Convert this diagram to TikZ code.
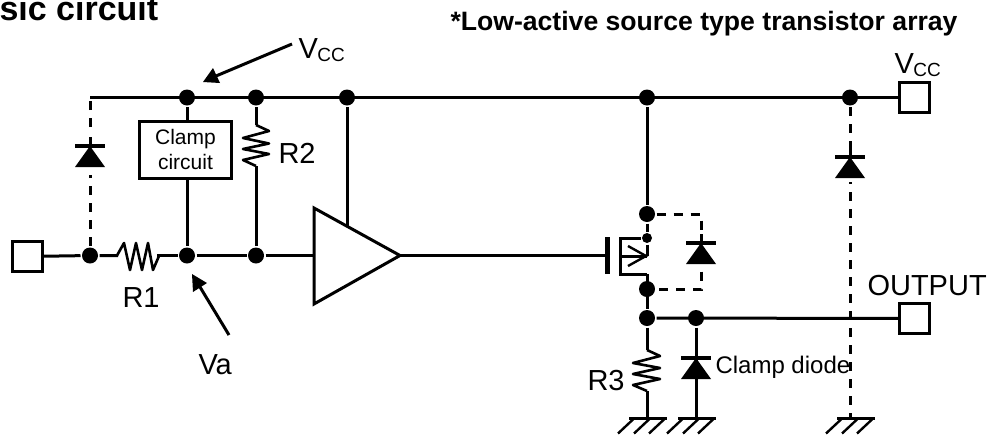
\documentclass[tikz,border=0pt]{standalone}
\usepackage{fontspec}
\setmainfont{Liberation Sans}
\begin{document}
\begin{tikzpicture}[x=1pt,y=-1pt,line width=3pt,
  dot/.style={circle,fill=black,draw=none,inner sep=0pt,minimum size=16pt},
  smalldot/.style={circle,fill=black,draw=none,inner sep=0pt,minimum size=10pt},
  pin/.style={draw,fill=white,inner sep=0pt,minimum size=30pt,line width=3pt},
  lab/.style={inner sep=0pt,anchor=base west,font=\fontsize{29}{30}\selectfont},
  dashwire/.style={dash pattern=on 9pt off 8pt},
  zig/.style={line width=2.6pt,line join=round}]
\useasboundingbox (0,0) rectangle (987,437);
\newcommand{\diodeat}[3]{%
  \fill (#1-15,#2+#3) -- (#1+15,#2+#3) -- (#1,#2) -- cycle;
  \draw[line width=3.4pt] (#1-15,#2) -- (#1+15,#2);}
\newcommand{\groundat}[2]{%
  \draw[line width=3.4pt] (#1-18,#2) -- (#1+20,#2);
  \foreach \gx in {-13,3,18} \draw[line width=2.4pt] (#1+\gx,#2) -- (#1+\gx-16,#2+15);}
\newcommand{\vcclabel}{V\kern-0.5pt\raisebox{-3pt}{\fontsize{19}{19}\selectfont CC}}
% nodes
\node[pin] (pinL) at (27.5,256.5) {};
\node[pin] (pinV) at (914.5,97.5) {};
\node[pin] (pinO) at (914.5,318.5) {};
\node[dot] (a1) at (90,255.5) {};
\node[dot] (a2) at (187,255.5) {};
\node[dot] (a3) at (256,255.5) {};
\node[dot] (t1) at (187,97.5) {};
\node[dot] (t2) at (256,97.5) {};
\node[dot] (t3) at (347,97.5) {};
\node[dot] (t4) at (647,97.5) {};
\node[dot] (t5) at (850,97.5) {};
\node[dot] (m1) at (647,214) {};
\node[dot] (m2) at (647,289) {};
\node[dot] (o1) at (647,318) {};
\node[dot] (o2) at (696,318) {};
\node[smalldot] (s1) at (647,238) {};
\coordinate (tl) at (90,97.5);
\coordinate (ampT) at (347,226);
\coordinate (ampIn) at (314,255.5);
\coordinate (ampOut) at (400,255.5);
\coordinate (gate) at (607,255.5);
\coordinate (g1) at (647,418.5);
\coordinate (g2) at (696,418.5);
\coordinate (g3) at (850,418.5);
% wires
\draw (tl) -- (pinV);
\draw[dashwire] (a1) -- (tl);
\draw (pinL) -- (a1) -- (118,255.5);
\draw (157,255.5) -- (a2) -- (a3) -- (ampIn);
\draw (t3) -- (ampT);
\node[draw,fill=white,line width=3pt,minimum width=92pt,minimum height=57pt,inner sep=0pt,align=center,font=\fontsize{21}{25}\selectfont] (clamp) at (185.5,149.5) {Clamp\\circuit};
\draw (t1) -- (clamp.north -| t1);
\draw (clamp.south -| t1) -- (a2);
% R1
\draw[zig] (117,255.5) -- (124,243) -- (130,270) -- (136,243) -- (142,270) -- (148,243) -- (153,270) -- (159,256);
% R2
\draw (t2) -- (256,125);
\draw[zig] (256,125) -- (269,131) -- (243,138) -- (269,143.5) -- (243,149) -- (269,154) -- (243,160) -- (256,166);
\draw (256,166) -- (a3);
% left diode
\fill[white] (75,130) rectangle (105,175);
\draw (90,137) -- (90,146);
\diodeat{90}{146}{21}
% amp
\draw[fill=white,line width=3pt,line join=miter] (ampIn |- 0,208) -- (ampOut) -- (ampIn |- 0,304) -- cycle;
\draw (ampOut) -- (gate);
% MOSFET
\draw[line width=5pt] (607,237) -- (607,274);
\draw (t4) -- (m1) -- (s1) -- (647,256);
\draw (647,274) -- (o1);
\draw (s1) -- (620,238) -- (620,274) -- (647,274);
\draw (620,256) -- (647,256);
\draw[line width=2.4pt,line join=miter] (628,246) -- (646,256) -- (628,266);
% body diode
\draw[dashwire] (m1) -- (701,214) -- (701,289) -- (m2);
\fill[white] (686,232) rectangle (716,270);
\draw (701,234) -- (701,243);
\diodeat{701}{243}{21}
% output
\draw (o1) -- (pinO);
% R3
\draw (o1) -- (647,350);
\draw[zig] (647,350) -- (660,356) -- (633,363) -- (660,368) -- (633,374) -- (660,379) -- (633,385) -- (647,391);
\draw (647,391) -- (g1);
% clamp diode
\draw (o2) -- (g2);
\diodeat{696}{358}{21}
% right dashed
\draw[dashwire] (t5) -- (g3);
\fill[white] (835,148) rectangle (865,182);
\draw (850,148) -- (850,157);
\diodeat{850}{157}{21}
\groundat{647}{418.5}
\groundat{696}{418.5}
\groundat{855}{418.5}
% arrows
\coordinate (vccTail) at (292,44);
\coordinate (vccHead) at (216,76);
\fill (203,82) -- (213,68) -- (220,83) -- cycle;
\draw (vccTail) -- (vccHead);
\coordinate (vaTail) at (229,335);
\coordinate (vaHead) at (200,287);
\fill (192,274) -- (207,283) -- (193,292) -- cycle;
\draw (vaTail) -- (vaHead);
% labels
\node[lab] (tR1) at (121,307) {R1};
\node[lab] (tR2) at (277,163) {R2};
\node[lab] (tR3) at (586,390) {R3};
\node[lab] (tVa) at (197,374) {Va};
\node[lab] (tOut) at (866,295) {OUTPUT};
\node[lab] (tV1) at (297,58) {\vcclabel};
\node[lab] (tV2) at (893,73) {\vcclabel};
\node[anchor=base west,inner sep=0pt,font=\fontsize{24}{26}\selectfont] (tCD) at (714,373) {Clamp diode};
\node[anchor=base west,inner sep=0pt,font=\bfseries\fontsize{26.6}{28}\selectfont] (tNote) at (449,30) {*Low-active source type transistor array};
\begin{scope}
\clip (0,0) rectangle (987,437);
\node[anchor=base west,inner sep=0pt,font=\bfseries\fontsize{34}{36}\selectfont] (tTitle) at (-2,20) {sic circuit};
\end{scope}
\end{tikzpicture}
\end{document}
